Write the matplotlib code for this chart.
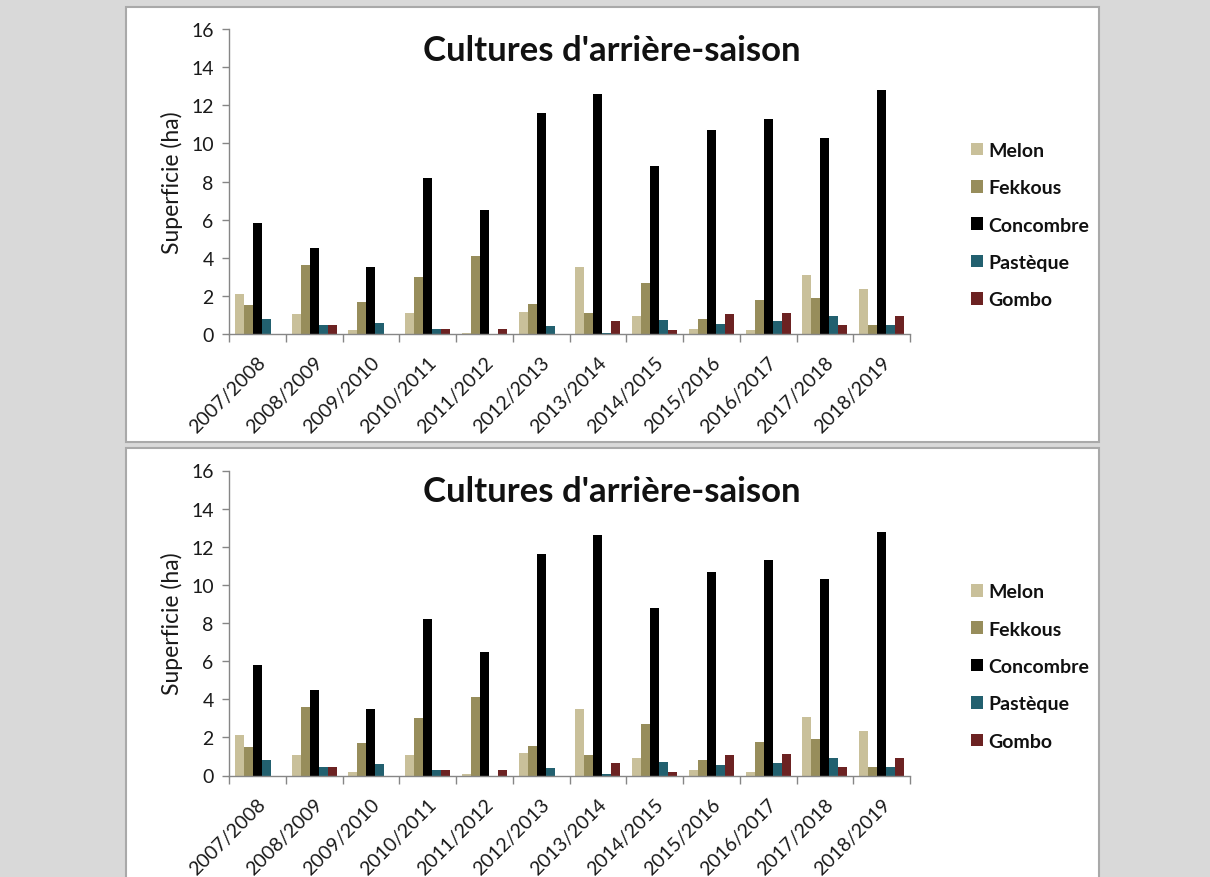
import matplotlib
matplotlib.use("Agg")
import matplotlib.pyplot as plt
from matplotlib.patches import Rectangle
import numpy as np

# Campaign years
campagnes = ["2007/2008", "2008/2009", "2009/2010", "2010/2011", "2011/2012", "2012/2013",
             "2013/2014", "2014/2015", "2015/2016", "2016/2017", "2017/2018", "2018/2019"]

# Cultivated area (ha) per crop
melon = [2.1, 1.05, 0.2, 1.1, 0.07, 1.18, 3.5, 0.92, 0.27, 0.19, 3.07, 2.35]
fekkous = [1.5, 3.6, 1.7, 3.0, 4.1, 1.57, 1.1, 2.7, 0.8, 1.77, 1.9, 0.46]
concombre = [5.8, 4.5, 3.5, 8.2, 6.5, 11.6, 12.6, 8.8, 10.7, 11.3, 10.3, 12.8]
pasteque = [0.8, 0.46, 0.6, 0.27, 0.0, 0.4, 0.07, 0.72, 0.53, 0.67, 0.92, 0.46]
gombo = [0.0, 0.46, 0.0, 0.27, 0.27, 0.0, 0.67, 0.19, 1.06, 1.11, 0.46, 0.92]

series_names = ["Melon", "Fekkous", "Concombre", "Pastèque", "Gombo"]
series_values = [melon, fekkous, concombre, pasteque, gombo]
series_colors = ["#c9c09a", "#978d5b", "#000000", "#22606f", "#6c2222"]

W, H = 1210, 878
fig = plt.figure(figsize=(W / 100, H / 100), dpi=100, facecolor="#d9d9d9")


def fx(px):
    return px / W


def fy(py):
    return 1 - py / H


def panel(top, bottom):
    fig.patches.append(Rectangle((fx(126), fy(bottom)), fx(1099) - fx(126), fy(top) - fy(bottom),
                                 transform=fig.transFigure, facecolor="white",
                                 edgecolor="#a9a9a9", linewidth=1.5, zorder=-5))


def chart(offset):
    ax = fig.add_axes([fx(229), fy(335 + offset), fx(910) - fx(229), fy(30 + offset) - fy(335 + offset)])
    ax.set_facecolor("none")
    x = np.arange(len(campagnes))
    bw = 0.158
    for i, (name, vals, col) in enumerate(zip(series_names, series_values, series_colors)):
        ax.bar(x + (i - 2) * bw, vals, width=bw, color=col, label=name, linewidth=0)
    ax.set_xlim(-0.5, len(campagnes) - 0.5)
    ax.set_ylim(0, 16)
    ax.set_yticks(range(0, 17, 2))
    ax.set_xticks(np.arange(-0.5, len(campagnes), 1.0))
    ax.set_xticklabels([])
    ax.set_xticks(x, minor=True)
    ax.set_xticklabels(campagnes, minor=True, rotation=45, ha="right",
                       rotation_mode="anchor", fontsize=14, family="Lato", color="#1a1a1a")
    ax.tick_params(axis="x", which="minor", length=0, pad=14)
    ax.tick_params(axis="x", which="major", length=6, color="#868686", width=1)
    ax.tick_params(axis="y", length=5, color="#868686", width=1, labelsize=14, pad=6,
                   labelcolor="#1a1a1a")
    for lab in ax.get_yticklabels():
        lab.set_family("Lato")
    for s in ["top", "right"]:
        ax.spines[s].set_visible(False)
    for s in ["left", "bottom"]:
        ax.spines[s].set_color("#868686")
        ax.spines[s].set_linewidth(1)
    ax.set_ylabel("Superficie (ha)", fontsize=16.5, family="Lato", labelpad=6, color="#1a1a1a")
    fig.text(fx(612), fy(51 + offset), "Cultures d'arrière-saison", ha="center", va="center",
             fontsize=25, fontweight="bold", family="Lato", color="#111111")
    leg = ax.legend(loc="center left", bbox_to_anchor=(fx(961), fy(226 + offset)),
                    bbox_transform=fig.transFigure, frameon=False,
                    prop={"family": "Lato", "weight": "bold", "size": 14},
                    handlelength=0.62, handleheight=0.62, handletextpad=0.3,
                    labelspacing=1.05, borderpad=0)
    for t in leg.get_texts():
        t.set_color("#111111")
    return ax


panel(8, 443)
panel(449, 895)
chart(0)
chart(441.5)

fig.savefig("out.png", dpi=100, facecolor=fig.get_facecolor())
